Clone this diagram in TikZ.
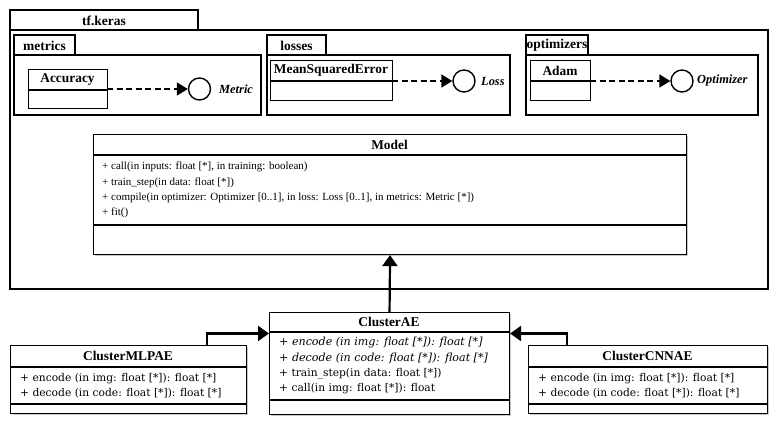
\documentclass[tikz,border=0pt]{standalone}
\usepackage{fontspec}
\setmainfont{Liberation Serif}
\newfontfamily\memfont{DejaVu Serif}
\usetikzlibrary{arrows.meta,shadows}
\begin{document}
\begin{tikzpicture}[x=1pt,y=-1pt,
  pkg/.style={draw=black,line width=1.1pt,fill=white},
  cls/.style={draw=black,line width=1.1pt,fill=white,
     drop shadow={shadow xshift=1.5pt,shadow yshift=-1.5pt,fill=black!35,opacity=0.6}},
  divider/.style={line width=1.1pt},
  pkgname/.style={font=\bfseries\fontsize{13.5}{15}\selectfont,inner sep=0pt},
  clsname/.style={font=\bfseries\fontsize{13.4}{15}\selectfont,inner sep=0pt},
  mem/.style={font=\fontsize{11}{13}\selectfont,inner sep=0pt,anchor=west},
  memb/.style={font=\memfont\fontsize{10.7}{13}\selectfont,inner sep=0pt,anchor=west},
  membi/.style={font=\memfont\fontsize{11.1}{13}\selectfont,inner sep=0pt,anchor=west},
  iface/.style={circle,draw=black,line width=1.4pt,fill=white,minimum size=22pt,inner sep=0pt},
  ilabel/.style={font=\bfseries\itshape\fontsize{12.4}{14}\selectfont,inner sep=0pt,anchor=west},
  real/.style={dashed,dash pattern=on 6pt off 3.5pt,line width=1.8pt,-{Triangle[length=11pt,width=13pt]}},
  inh/.style={line width=2.2pt,-{Triangle[length=11pt,width=15pt]}}
]
\useasboundingbox (0,0) rectangle (779,425);
\fill[white] (0,0) rectangle (779,425);

% tf.keras package
\draw[pkg] (10,10) rectangle (198,30);
\draw[pkg] (10,30) rectangle (768,289);
\node[pkgname] (tfk) at (104,20.5) {tf.keras};

% metrics
\draw[pkg] (14,35) rectangle (75,55);
\draw[pkg] (14,55) rectangle (261,115);
\node[pkgname] (metricsl) at (44.5,45.5) {metrics};
% losses
\draw[pkg] (267,35) rectangle (326,55);
\draw[pkg] (267,55) rectangle (510,115);
\node[pkgname] (lossesl) at (296.5,45.5) {losses};
% optimizers
\draw[pkg] (526,35) rectangle (588,55);
\draw[pkg] (526,55) rectangle (758,115);
\node[pkgname] (optl) at (557,45.5) {optimizers};

% Accuracy
\node[draw,line width=1.1pt,fill=white,anchor=north west,minimum width=79pt,minimum height=39pt,inner sep=0pt] (acc) at (28,69) {};
\node[clsname] (accn) at (67.5,80) {Accuracy};
\draw[divider] (28,90) -- (107,90);
\node[iface] (metric) at (199.5,89) {};
\node[ilabel] (metricl) at (219,89.5) {Metric};
\coordinate (accout) at (107,89);
\draw[real] (accout) -- (metric.west);

% MeanSquaredError
\node[draw,line width=1.1pt,fill=white,anchor=north west,minimum width=122pt,minimum height=40pt,inner sep=0pt] (mse) at (270,60) {};
\node[clsname] (msen) at (331,70.5) {MeanSquaredError};
\draw[divider] (270,81) -- (392,81);
\node[iface] (loss) at (464,81) {};
\node[ilabel] (lossl) at (481,81.5) {Loss};
\coordinate (mseout) at (392,81);
\draw[real] (mseout) -- (loss.west);

% Adam
\node[draw,line width=1.1pt,fill=white,anchor=north west,minimum width=60pt,minimum height=40pt,inner sep=0pt] (adam) at (530,60) {};
\node[clsname] (adamn) at (560,70.5) {Adam};
\draw[divider] (530,81) -- (590,81);
\node[iface] (optim) at (682,81) {};
\node[ilabel] (optiml) at (697,80.5) {Optimizer};
\coordinate (adamout) at (590,81);
\draw[real] (adamout) -- (optim.west);

% Model
\node[cls,anchor=north west,minimum width=593pt,minimum height=120pt,inner sep=0pt] (model) at (93,134) {};
\node[clsname] (modeln) at (389.5,144.5) {Model};
\draw[divider] (93,155) -- (686,155);
\draw[divider] (93,225) -- (686,225);
\node[mem] (m1) at (102,167) {+ call(in inputs: float [*], in training: boolean)};
\node[mem] (m2) at (102,182.5) {+ train\_step(in data: float [*])};
\node[mem] (m3) at (102,198) {+ compile(in optimizer: Optimizer [0..1], in loss: Loss [0..1], in metrics: Metric [*])};
\node[mem] (m4) at (102,213) {+ fit()};

% ClusterAE
\node[cls,anchor=north west,minimum width=240pt,minimum height=102pt,inner sep=0pt] (cae) at (269,312) {};
\node[clsname] (caen) at (389,322) {ClusterAE};
\draw[divider] (269,332) -- (509,332);
\draw[divider] (269,400) -- (509,400);
\node[membi] (c1) at (279,343) {+ \textit{encode (in img: float [*]): float [*]}};
\node[membi] (c2) at (279,358) {+ \textit{decode (in code: float [*]): float [*]}};
\node[memb] (c3) at (279,373.5) {+ train\_step(in data: float [*])};
\node[memb] (c4) at (279,389) {+ call(in img: float [*]): float};

% ClusterMLPAE
\node[cls,anchor=north west,minimum width=236pt,minimum height=68pt,inner sep=0pt] (mlp) at (10,345) {};
\node[clsname] (mlpn) at (128,356) {ClusterMLPAE};
\draw[divider] (10,367) -- (246,367);
\draw[divider] (10,404) -- (246,404);
\node[memb] (p1) at (20,378.5) {+ encode (in img: float [*]): float [*]};
\node[memb] (p2) at (20,393.5) {+ decode (in code: float [*]): float [*]};

% ClusterCNNAE
\node[cls,anchor=north west,minimum width=239pt,minimum height=68pt,inner sep=0pt] (cnn) at (528,345) {};
\node[clsname] (cnnn) at (647.5,356) {ClusterCNNAE};
\draw[divider] (528,367) -- (767,367);
\draw[divider] (528,404) -- (767,404);
\node[memb] (q1) at (538,378.5) {+ encode (in img: float [*]): float [*]};
\node[memb] (q2) at (538,393.5) {+ decode (in code: float [*]): float [*]};

% inheritance
\draw[inh] (cae.north) -- (model.south);
\draw[inh] (mlp.north west) ++(197,0) |- (cae.west |- 0,333.5);
\draw[inh] (cnn.north west) ++(39,0) |- (cae.east |- 0,333.5);
\end{tikzpicture}
\end{document}
